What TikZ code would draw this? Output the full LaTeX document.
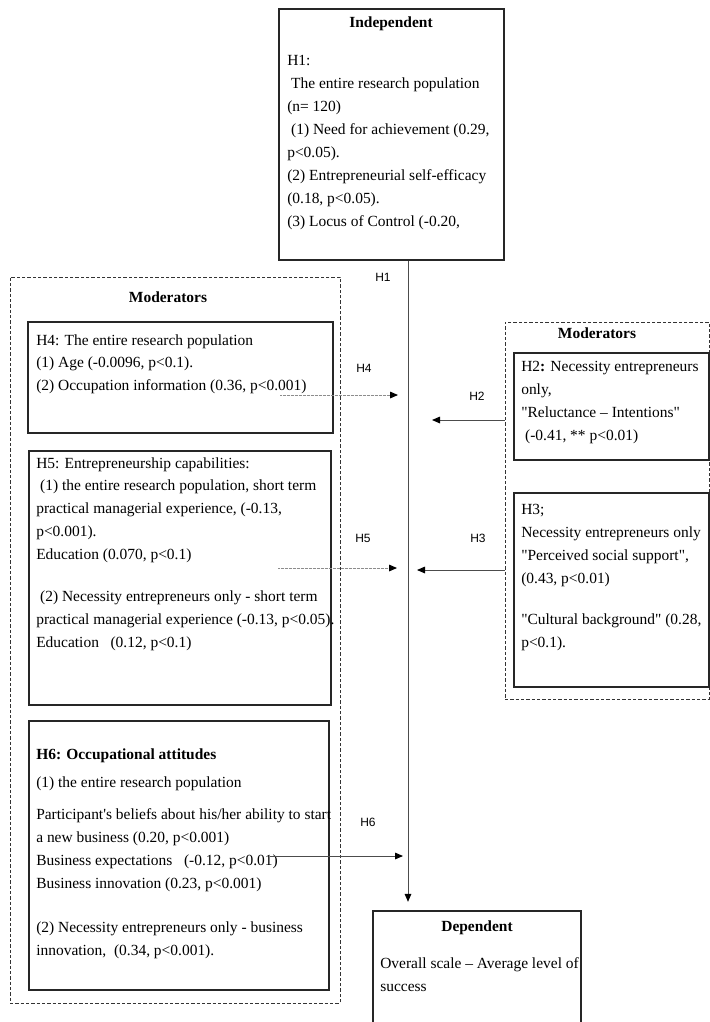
\documentclass[tikz,border=0pt]{standalone}
\usepackage{fontspec}
\newfontfamily\boxfont{Liberation Serif}
\newfontfamily\hypfont{Liberation Sans}
\usetikzlibrary{arrows.meta, fit}

\tikzset{
  box/.style={draw=black!85, line width=0.8pt, inner sep=0pt},
  group/.style={draw=black!80, line width=0.7pt, dash pattern={on 2.4pt off 1.6pt}, inner sep=0pt},
  txt/.style={anchor=north west, inner sep=0.75pt, align=left, font=\boxfont\fontsize{11.6}{17.2}\selectfont},
  head/.style={inner sep=0.75pt, font=\boxfont\fontsize{11.6}{17.2}\selectfont\bfseries},
  hyp/.style={inner sep=0.75pt, font=\hypfont\fontsize{9}{10}\selectfont},
  link/.style={draw=black!70, line width=0.75pt, -{Triangle[length=6pt,width=5pt,color=black]}},
  dotlink/.style={link, draw=black!45, dash pattern={on 0.6pt off 0.4pt}},
}

\begin{document}
\begin{tikzpicture}[x=0.75pt,y=0.75pt,yscale=-1]
\useasboundingbox (0,0) rectangle (710,1022);
\clip (0,0) rectangle (710,1022);

%Shape: Rectangle
\node [box, fit={(279,9) (504,260)}] (indep) {};
%Shape: Rectangle
\node [group, fit={(10,277) (340,1003)}] (lmod) {};
\node [box, fit={(28,322) (333,433)}] (h4box) {};
\node [box, fit={(29,451) (331,705)}] (h5box) {};
\node [box, fit={(29,721) (329,990)}] (h6box) {};
%Shape: Rectangle
\node [group, fit={(505,322) (709,699)}] (rmod) {};
\node [box, fit={(514,353) (709,460)}] (h2box) {};
\node [box, fit={(514,493) (709,687)}] (h3box) {};
%Shape: Rectangle
\node [box, fit={(373,911) (581,1040)}] (dep) {};

% Text Node
\node [head] (indephead) at (391,24) {Independent};
% Text Node
\node [txt] (indeptxt) at (286,54) {H1:\\
\hspace*{.25em}The entire research population\\
(n= 120)\\
\hspace*{.25em}(1) Need for achievement (0.29,\\
p<0.05).\\
(2) Entrepreneurial self-efficacy\\
(0.18, p<0.05).\\
(3) Locus of Control (-0.20,};

% Text Node
\node [head] (lmodhead) at (168,297) {Moderators};
% Text Node
\node [txt] (h4txt) at (35,333) {H4: The entire research population\\
(1) Age (-0.0096, p<0.1).\\
(2) Occupation information (0.36, p<0.001)};
% Text Node
\node [txt] (h5txt) at (35,456) {H5: Entrepreneurship capabilities:\\
\hspace*{.25em}(1) the entire research population, short term\\
practical managerial experience, (-0.13,\\
p<0.001).\\
Education (0.070, p<0.1)\\[14pt]
\hspace*{.25em}(2) Necessity entrepreneurs only - short term\\
practical managerial experience (-0.13, p<0.05).\\
Education \ \ (0.12, p<0.1)};
% Text Node
\node [txt] (h6txt) at (35,747) {\textbf{H6: Occupational attitudes}\\[4.5pt]
(1) the entire research population\\[6.5pt]
Participant's beliefs about his/her ability to start\\
a new business (0.20, p<0.001)\\
Business expectations \ \ (-0.12, p<0.01)\\
Business innovation (0.23, p<0.001)\\[16pt]
(2) Necessity entrepreneurs only - business\\
innovation, \ (0.34, p<0.001).};

% Text Node
\node [head] (rmodhead) at (597,333) {Moderators};
% Text Node
\node [txt] (h2txt) at (520,360) {H2\textbf{:} Necessity entrepreneurs\\
only,\\
"Reluctance – Intentions"\\
\hspace*{.25em}(-0.41, ** p<0.01)};
% Text Node
\node [txt] (h3txt) at (520,503) {H3;\\
Necessity entrepreneurs only\\
"Perceived social support",\\
(0.43, p<0.01)\\[13.5pt]
"Cultural background" (0.28,\\
p<0.1).};

% Text Node
\node [head] (dephead) at (477,928) {Dependent};
% Text Node
\node [txt] (deptxt) at (379,956) {Overall scale – Average level of\\
success};

%Straight Lines
\coordinate (mainx) at (408,0);
\draw [link, shorten >=6.5pt] (indep.south -| mainx) -- (dep.north -| mainx);
%Straight Lines
\coordinate (h4s) at (280,395);
\coordinate (h4e) at (398,395);
\draw [dotlink] (h4s) -- (h4e);
\coordinate (h5s) at (278,568);
\coordinate (h5e) at (397,568);
\draw [dotlink] (h5s) -- (h5e);
\coordinate (h6s) at (270,856);
\coordinate (h6e) at (403,856);
\draw [link] (h6s) -- (h6e);
%Straight Lines
\coordinate (h2e) at (432,420);
\draw [link] (rmod.west |- h2e) -- (h2e);
\coordinate (h3e) at (417,570);
\draw [link] (rmod.west |- h3e) -- (h3e);

% Text Node
\node [hyp] (h1lbl) at (383,277) {H1};
\node [hyp] (h4lbl) at (364,368) {H4};
\node [hyp] (h2lbl) at (477,396) {H2};
\node [hyp] (h5lbl) at (363,538) {H5};
\node [hyp] (h3lbl) at (478,538) {H3};
\node [hyp] (h6lbl) at (368,822) {H6};

\end{tikzpicture}
\end{document}
